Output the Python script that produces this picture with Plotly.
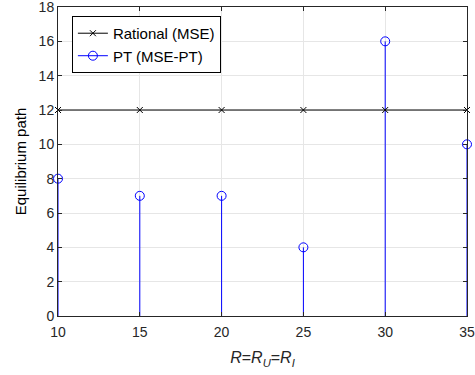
import plotly.graph_objects as go

R_values = [10, 15, 20, 25, 30, 35]
rational_mse = [12, 12, 12, 12, 12, 12]
pt_mse_pt = [8, 7, 7, 4, 16, 10]

# build stem segments from the data
stem_x, stem_y = [], []
for xv, yv in zip(R_values, pt_mse_pt):
    stem_x += [xv, xv, None]
    stem_y += [0, yv, None]

fig = go.Figure()
fig.add_trace(go.Scatter(x=stem_x, y=stem_y, mode="lines",
                         line=dict(color="#0000ff", width=1),
                         showlegend=False, hoverinfo="skip", cliponaxis=False))
fig.add_trace(go.Scatter(x=R_values, y=rational_mse, mode="lines+markers",
                         name="Rational (MSE)",
                         line=dict(color="#000000", width=1),
                         marker=dict(symbol="x-thin", size=6, line=dict(color="#000000", width=1)),
                         cliponaxis=False))
fig.add_trace(go.Scatter(x=R_values, y=pt_mse_pt, mode="markers",
                         name="PT (MSE-PT)",
                         marker=dict(symbol="circle-open", size=9, color="#0000ff", line=dict(width=1)),
                         cliponaxis=False, showlegend=False))
# legend entry for PT with line+marker look
fig.add_trace(go.Scatter(x=[None], y=[None], mode="lines+markers",
                         name="PT (MSE-PT)",
                         line=dict(color="#0000ff", width=1),
                         marker=dict(symbol="circle-open", size=9, color="#0000ff", line=dict(width=1))))

axis_common = dict(showline=True, linecolor="#262626", linewidth=1, mirror="ticks",
                   ticks="inside", ticklen=4, tickcolor="#262626",
                   showgrid=True, gridcolor="#e6e6e6", gridwidth=1, zeroline=False,
                   ticklabeloverflow="allow",
                   tickfont=dict(family="Liberation Sans, Arial", size=14, color="#262626"))

fig.update_xaxes(range=[10, 35], tickvals=R_values, ticklabelstandoff=3, **axis_common,
                 title=dict(text="<i>R</i>=<i>R</i><sub><i>U</i></sub>=<i>R</i><sub><i>I</i></sub>",
                            font=dict(family="Liberation Sans, Arial", size=16, color="#262626"),
                            standoff=13))
fig.update_yaxes(range=[0, 18], dtick=2, **axis_common,
                 title=dict(text="Equilibrium path",
                            font=dict(family="Liberation Sans, Arial", size=15, color="#000000"),
                            standoff=8))

fig.update_layout(width=475, height=375, autosize=False,
                  margin=dict(l=58, r=8, t=7, b=59, autoexpand=False),
                  plot_bgcolor="white", paper_bgcolor="white",
                  legend=dict(x=0.034, y=0.971, xanchor="left", yanchor="top",
                              bgcolor="white", bordercolor="#000000", borderwidth=1,
                              font=dict(family="Liberation Sans, Arial", size=15, color="#000000"),
                              itemwidth=30, tracegroupgap=0))

fig.write_html("out.html", config={"displayModeBar": False},
               post_script="document.body.style.margin='0';document.body.style.padding='0';")
